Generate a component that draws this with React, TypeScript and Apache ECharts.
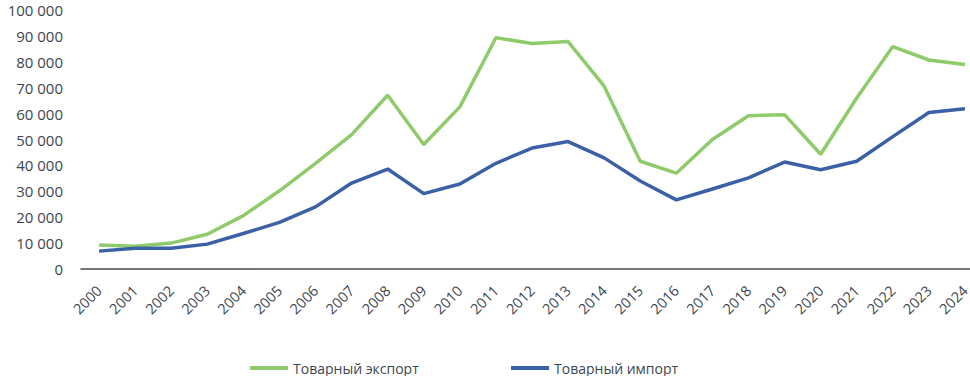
import React, { useEffect, useRef } from "react";
import * as echarts from "echarts";

const years = ["2000","2001","2002","2003","2004","2005","2006","2007","2008","2009","2010","2011","2012","2013","2014","2015","2016","2017","2018","2019","2020","2021","2022","2023","2024"];
const exportValues = [9300, 8800, 10000, 13400, 20600, 30200, 40800, 51900, 67100, 48100, 62600, 89300, 87100, 87800, 70600, 41600, 37000, 50000, 59200, 59600, 44300, 66000, 85900, 80700, 79000];
const importValues = [6900, 8000, 8000, 9600, 13700, 18000, 24000, 33200, 38600, 29100, 32800, 40800, 46700, 49200, 42900, 34000, 26700, 30900, 35200, 41300, 38300, 41600, 51100, 60400, 61900];
const exportName = "Товарный экспорт";
const importName = "Товарный импорт";

const GREEN = "#8fcb6a";
const BLUE = "#3a60a6";
const TEXT = "#3d4650";
const FONT = "'Open Sans', 'Noto Sans', sans-serif";

export default function App() {
  const ref = useRef<HTMLDivElement>(null);
  useEffect(() => {
    document.body.style.margin = "0";
    document.documentElement.style.overflow = "hidden";
    document.body.style.overflow = "hidden";
    const chart = echarts.init(ref.current!, null, { renderer: "svg" });
    const legendText = { color: TEXT, fontSize: 14, fontFamily: FONT, lineHeight: 16 };
    chart.setOption({
      animation: false,
      grid: { left: 81, width: 902, top: 10, height: 259, containLabel: false },
      legend: [
        { data: [exportName], left: 245, top: 355, icon: "rect", itemWidth: 38, itemHeight: 4, textStyle: legendText, itemStyle: { color: GREEN } },
        { data: [importName], left: 506, top: 355, icon: "rect", itemWidth: 38, itemHeight: 4, textStyle: legendText, itemStyle: { color: BLUE } },
      ],
      xAxis: {
        type: "category",
        data: years,
        boundaryGap: true,
        axisLine: { lineStyle: { color: "#404850", width: 1.5 } },
        axisTick: { show: false },
        axisLabel: { rotate: 45, margin: 19, color: TEXT, fontSize: 14.5, fontFamily: FONT, interval: 0, lineHeight: 12 },
      },
      yAxis: {
        type: "value",
        min: 0,
        max: 100000,
        interval: 10000,
        splitLine: { show: false },
        axisLine: { show: false },
        axisTick: { show: false },
        axisLabel: {
          margin: 18,
          color: TEXT,
          fontSize: 15,
          fontFamily: FONT,
          lineHeight: 14,
          formatter: (v: number) => String(v).replace(/\B(?=(\d{3})+(?!\d))/g, " "),
        },
      },
      series: [
        { name: exportName, type: "line", data: exportValues, symbol: "none", lineStyle: { color: GREEN, width: 3.5 }, itemStyle: { color: GREEN } },
        { name: importName, type: "line", data: importValues, symbol: "none", lineStyle: { color: BLUE, width: 3.5 }, itemStyle: { color: BLUE } },
      ],
    });
    return () => chart.dispose();
  }, []);
  return (
    <div style={{ position: "absolute", left: 0, top: 0, width: 970, height: 376, overflow: "hidden" }}>
      <div ref={ref} style={{ width: 1000, height: 376 }} />
    </div>
  );
}
